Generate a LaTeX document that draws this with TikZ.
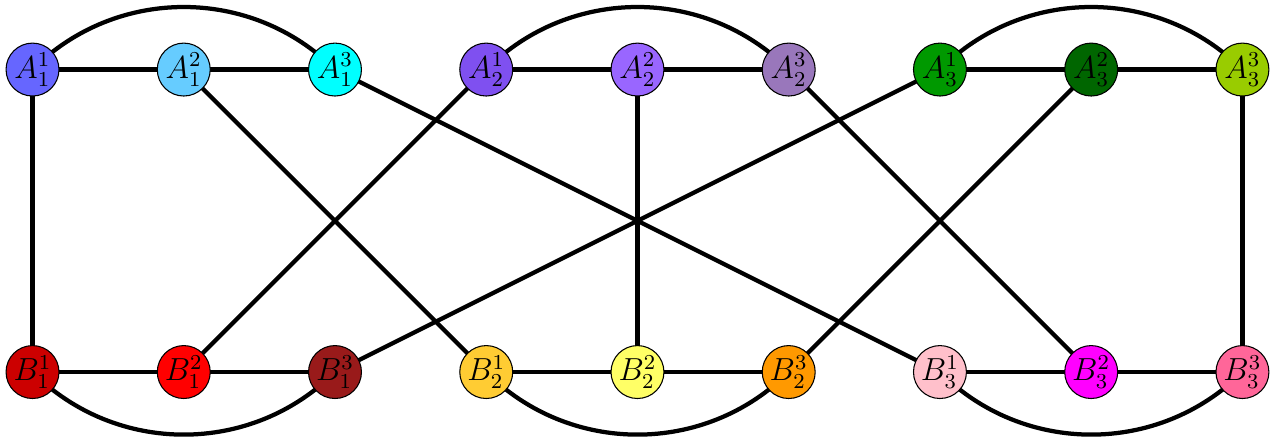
\documentclass[tikz,border=0pt]{standalone}
\begin{document}
\begin{tikzpicture}[
  vtx/.style={circle, draw=black, line width=0.4pt, minimum size=0.7cm, inner sep=0pt, font=\large},
  edge/.style={line width=1.6pt}
]
\useasboundingbox (-0.43,-0.94) rectangle (16.51,4.92);
\definecolor{ca11}{RGB}{102,102,255}
\definecolor{ca12}{RGB}{102,204,255}
\definecolor{ca13}{RGB}{0,255,255}
\definecolor{ca21}{RGB}{127,80,240}
\definecolor{ca22}{RGB}{153,102,255}
\definecolor{ca23}{RGB}{153,119,187}
\definecolor{ca31}{RGB}{0,153,0}
\definecolor{ca32}{RGB}{0,102,0}
\definecolor{ca33}{RGB}{153,204,0}
\definecolor{cb11}{RGB}{204,0,0}
\definecolor{cb12}{RGB}{255,0,0}
\definecolor{cb13}{RGB}{153,26,26}
\definecolor{cb21}{RGB}{255,204,51}
\definecolor{cb22}{RGB}{255,255,102}
\definecolor{cb23}{RGB}{255,153,0}
\definecolor{cb31}{RGB}{255,192,203}
\definecolor{cb32}{RGB}{255,0,255}
\definecolor{cb33}{RGB}{255,102,153}
% straight edges first (behind nodes)
\coordinate (pa11) at (0,4);  \coordinate (pa12) at (2,4);  \coordinate (pa13) at (4,4);
\coordinate (pa21) at (6,4);  \coordinate (pa22) at (8,4);  \coordinate (pa23) at (10,4);
\coordinate (pa31) at (12,4); \coordinate (pa32) at (14,4); \coordinate (pa33) at (16,4);
\coordinate (pb11) at (0,0);  \coordinate (pb12) at (2,0);  \coordinate (pb13) at (4,0);
\coordinate (pb21) at (6,0);  \coordinate (pb22) at (8,0);  \coordinate (pb23) at (10,0);
\coordinate (pb31) at (12,0); \coordinate (pb32) at (14,0); \coordinate (pb33) at (16,0);
\foreach \a/\b in {a11/a12,a12/a13,a21/a22,a22/a23,a31/a32,a32/a33,
                   b11/b12,b12/b13,b21/b22,b22/b23,b31/b32,b32/b33,
                   a11/b11,a12/b21,a13/b31,a21/b12,a22/b22,a23/b32,a31/b13,a32/b23,a33/b33}
  \draw[edge] (p\a) -- (p\b);
\foreach \a/\b in {a11/a13,a21/a23,a31/a33}
  \draw[edge] (p\a) to[bend left=45] (p\b);
\foreach \a/\b in {b11/b13,b21/b23,b31/b33}
  \draw[edge] (p\a) to[bend right=45] (p\b);
% nodes
\node[vtx, fill=ca11] (a11) at (pa11) {$A_1^1$};
\node[vtx, fill=ca12] (a12) at (pa12) {$A_1^2$};
\node[vtx, fill=ca13] (a13) at (pa13) {$A_1^3$};
\node[vtx, fill=ca21] (a21) at (pa21) {$A_2^1$};
\node[vtx, fill=ca22] (a22) at (pa22) {$A_2^2$};
\node[vtx, fill=ca23] (a23) at (pa23) {$A_2^3$};
\node[vtx, fill=ca31] (a31) at (pa31) {$A_3^1$};
\node[vtx, fill=ca32] (a32) at (pa32) {$A_3^2$};
\node[vtx, fill=ca33] (a33) at (pa33) {$A_3^3$};
\node[vtx, fill=cb11] (b11) at (pb11) {$B_1^1$};
\node[vtx, fill=cb12] (b12) at (pb12) {$B_1^2$};
\node[vtx, fill=cb13] (b13) at (pb13) {$B_1^3$};
\node[vtx, fill=cb21] (b21) at (pb21) {$B_2^1$};
\node[vtx, fill=cb22] (b22) at (pb22) {$B_2^2$};
\node[vtx, fill=cb23] (b23) at (pb23) {$B_2^3$};
\node[vtx, fill=cb31] (b31) at (pb31) {$B_3^1$};
\node[vtx, fill=cb32] (b32) at (pb32) {$B_3^2$};
\node[vtx, fill=cb33] (b33) at (pb33) {$B_3^3$};
\end{tikzpicture}
\end{document}
